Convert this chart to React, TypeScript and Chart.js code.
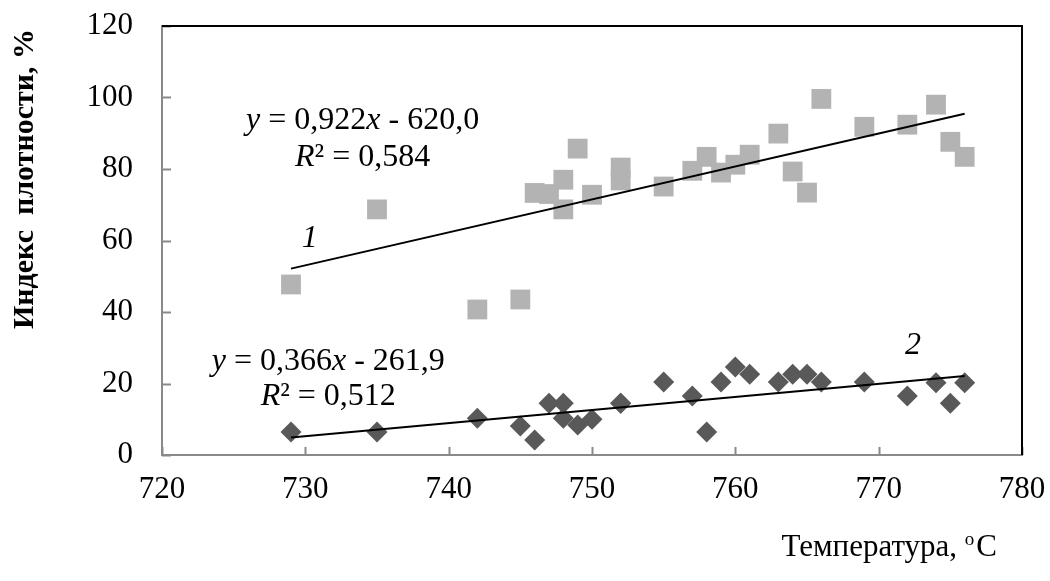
import React, { useEffect, useRef } from "react";
import { Chart, registerables } from "chart.js";

Chart.register(...registerables);

const temperatures = [729, 735, 742, 745, 746, 747, 748, 748, 749, 750, 752, 752, 755, 757, 758, 759, 760, 761, 763, 764, 765, 766, 769, 772, 774, 775, 776];
const densityIndex1 = [47.7, 68.7, 40.7, 43.5, 73.3, 73, 77, 68.7, 85.7, 72.8, 80.4, 76.8, 75.1, 79.5, 83.4, 79, 81.2, 84, 89.9, 79.3, 73.4, 99.6, 91.8, 92.4, 98, 87.6, 83.4];
const densityIndex2 = [6.4, 6.4, 10.3, 8.1, 4.2, 14.5, 14.5, 10.3, 8.4, 10, 14.5, 14.5, 20.4, 16.5, 6.4, 20.4, 24.6, 22.6, 20.4, 22.6, 22.6, 20.4, 20.4, 16.5, 20.2, 14.5, 20.2];

const trend1 = { slope: 0.922, intercept: -620.0 };
const trend2 = { slope: 0.366, intercept: -261.9 };

const xTicks = [720, 730, 740, 750, 760, 770, 780];
const yTicks = [0, 20, 40, 60, 80, 100, 120];

const SERIF = "'Liberation Serif', 'Times New Roman', serif";

export default function App() {
  const ref = useRef<HTMLCanvasElement | null>(null);

  useEffect(() => {
    if (!ref.current) return;
    const xMin = Math.min(...temperatures);
    const xMax = Math.max(...temperatures);
    const line = (t: { slope: number; intercept: number }) => [
      { x: xMin, y: t.slope * xMin + t.intercept },
      { x: xMax, y: t.slope * xMax + t.intercept },
    ];

    const decor = {
      id: "decor",
      afterDatasetsDraw(chart: any) {
        const ctx = chart.ctx;
        const xs = chart.scales.x;
        const ys = chart.scales.y;
        const a = chart.chartArea;
        ctx.save();
        // tick marks inward
        ctx.strokeStyle = "#898989";
        ctx.lineWidth = 2;
        for (const v of xTicks) {
          const px = Math.round(xs.getPixelForValue(v)) + 0.5;
          ctx.beginPath();
          ctx.moveTo(px, a.bottom);
          ctx.lineTo(px, a.bottom - 8);
          ctx.stroke();
        }
        for (const v of yTicks) {
          const py = Math.round(ys.getPixelForValue(v)) + 0.5;
          ctx.beginPath();
          ctx.moveTo(a.left, py);
          ctx.lineTo(a.left + 9, py);
          ctx.stroke();
        }
        // top and right border black
        ctx.strokeStyle = "#000";
        ctx.lineWidth = 2;
        ctx.beginPath();
        ctx.moveTo(a.left, a.top);
        ctx.lineTo(a.right, a.top);
        ctx.lineTo(a.right, a.bottom);
        ctx.stroke();

        // tick labels
        ctx.fillStyle = "#000";
        ctx.textBaseline = "middle";
        ctx.font = `31px ${SERIF}`;
        ctx.textAlign = "right";
        for (const v of yTicks) ctx.fillText(String(v), a.left - 29, ys.getPixelForValue(v));
        ctx.textAlign = "center";
        for (const v of xTicks) ctx.fillText(String(v), xs.getPixelForValue(v), a.bottom + 35);

        // annotations
        const FS = 32;
        const drawEq = (cx: number, cy: number, parts: [string, boolean][]) => {
          let total = 0;
          for (const [s, it] of parts) {
            ctx.font = `${it ? "italic " : ""}${FS}px ${SERIF}`;
            total += ctx.measureText(s).width;
          }
          let x = cx - total / 2;
          ctx.textAlign = "left";
          for (const [s, it] of parts) {
            ctx.font = `${it ? "italic " : ""}${FS}px ${SERIF}`;
            ctx.fillText(s, x, cy);
            x += ctx.measureText(s).width;
          }
        };
        const e1x = xs.getPixelForValue(734);
        drawEq(e1x, ys.getPixelForValue(93.5), [["y", true], [" = 0,922", false], ["x", true], [" - 620,0", false]]);
        drawEq(e1x, ys.getPixelForValue(83.2), [["R", true], ["² = 0,584", false]]);
        const e2x = xs.getPixelForValue(731.6);
        drawEq(e2x, ys.getPixelForValue(26), [["y", true], [" = 0,366", false], ["x", true], [" - 261,9", false]]);
        drawEq(e2x, ys.getPixelForValue(16.2), [["R", true], ["² = 0,512", false]]);

        ctx.font = `italic ${FS}px ${SERIF}`;
        ctx.textAlign = "center";
        ctx.fillText("1", xs.getPixelForValue(730.3), ys.getPixelForValue(60.6));
        ctx.fillText("2", xs.getPixelForValue(772.4), ys.getPixelForValue(30.7));

        // x title
        ctx.textAlign = "left";
        ctx.font = `31px ${SERIF}`;
        const t1 = "Температура, ";
        const w1 = ctx.measureText(t1).width;
        ctx.font = `19px ${SERIF}`;
        const w2 = ctx.measureText("o").width;
        ctx.font = `31px ${SERIF}`;
        const w3 = ctx.measureText("C").width;
        const right = 997;
        let tx = right - (w1 + w2 + 2 + w3);
        ctx.fillText(t1, tx, 548);
        tx += w1;
        ctx.font = `19px ${SERIF}`;
        ctx.fillText("o", tx, 540);
        tx += w2 + 2;
        ctx.font = `31px ${SERIF}`;
        ctx.fillText("C", tx, 548);

        // y title
        ctx.save();
        ctx.translate(25, 179);
        ctx.rotate(-Math.PI / 2);
        ctx.textAlign = "center";
        ctx.font = `bold 30px ${SERIF}`;
        ctx.fillText("Индекс  плотности, %", 0, 0);
        ctx.restore();

        ctx.restore();
      },
    };

    const chart = new Chart(ref.current, {
      type: "scatter",
      data: {
        datasets: [
          {
            type: "line",
            data: line(trend1),
            borderColor: "#000",
            borderWidth: 2,
            pointRadius: 0,
            fill: false,
          } as any,
          {
            type: "line",
            data: line(trend2),
            borderColor: "#000",
            borderWidth: 2,
            pointRadius: 0,
            fill: false,
          } as any,
          {
            data: temperatures.map((t, i) => ({ x: t, y: densityIndex1[i] })),
            pointStyle: "rect",
            pointRadius: 14,
            backgroundColor: "#b3b3b3",
            borderColor: "#b3b3b3",
            borderWidth: 0,
          },
          {
            data: temperatures.map((t, i) => ({ x: t, y: densityIndex2[i] })),
            pointStyle: "rectRot",
            pointRadius: 10.5,
            backgroundColor: "#595959",
            borderColor: "#595959",
            borderWidth: 0,
          },
        ],
      },
      options: {
        responsive: false,
        animation: false,
        events: [],
        layout: { padding: { left: 0, right: 28, top: 26, bottom: 0 } },
        plugins: { legend: { display: false }, tooltip: { enabled: false } },
        scales: {
          x: {
            type: "linear",
            min: 720,
            max: 780,
            afterBuildTicks: (s: any) => {
              s.ticks = xTicks.map((v) => ({ value: v }));
            },
            afterFit: (s: any) => {
              s.height = 126;
            },
            grid: { display: false, drawTicks: false },
            border: { display: true, color: "#898989", width: 2 },
            ticks: { display: false },
          },
          y: {
            type: "linear",
            min: 0,
            max: 120,
            afterBuildTicks: (s: any) => {
              s.ticks = yTicks.map((v) => ({ value: v }));
            },
            afterFit: (s: any) => {
              s.width = 162;
            },
            grid: { display: false, drawTicks: false },
            border: { display: true, color: "#898989", width: 2 },
            ticks: { display: false },
          },
        },
      },
      plugins: [decor],
    });
    return () => chart.destroy();
  }, []);

  return (
    <div style={{ position: "fixed", left: 0, top: 0, width: 1050, height: 581, background: "#fff" }}>
      <canvas ref={ref} width={1050} height={581} style={{ width: 1050, height: 581 }} />
    </div>
  );
}
